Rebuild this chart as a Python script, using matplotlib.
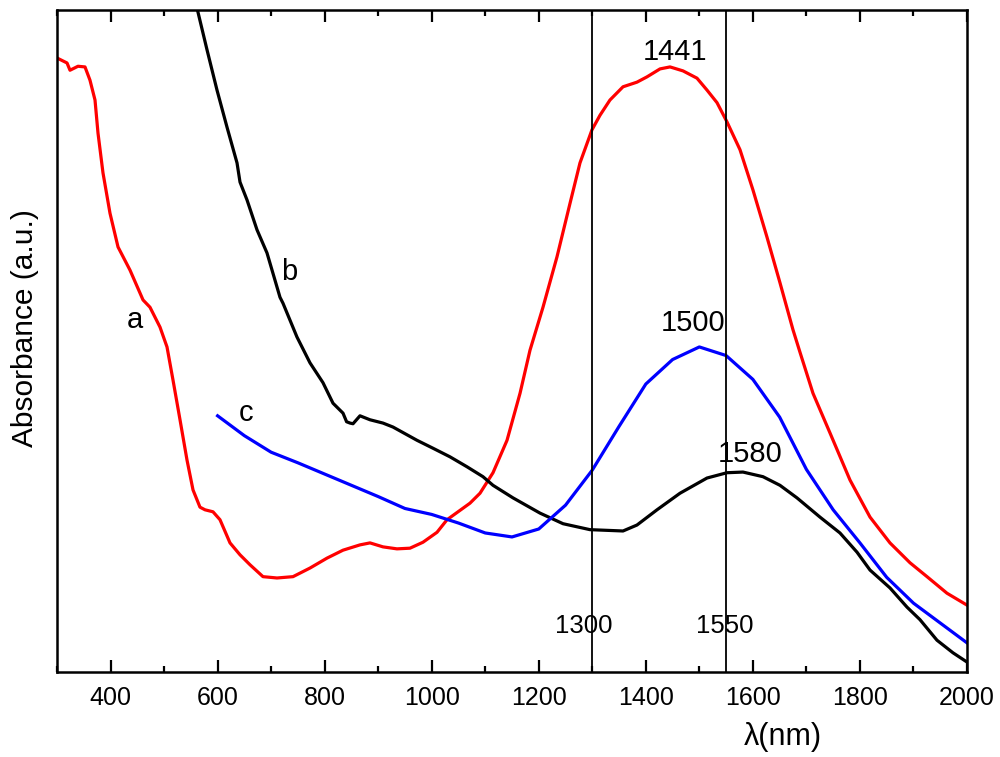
import matplotlib
matplotlib.use("Agg")
import matplotlib.pyplot as plt
from matplotlib.ticker import MultipleLocator, NullLocator

plt.rcParams['font.family'] = ['Liberation Sans', 'DejaVu Sans']

# ---- data (absorbance in arbitrary units, 0-100 scale) ----
wl_a = [300, 318.7, 324.3, 339.2, 352.3, 361.6, 371, 376.6, 385.9, 399, 414, 436.4,
        460.7, 473.7, 492.4, 505.5, 516.7, 529.8, 542.9, 554.1, 567.1, 576.5, 591.4,
        604.5, 623.2, 641.9, 660.5, 684.8, 711, 740.9, 772.6, 804.4, 834.3, 866,
        884.7, 909, 935.1, 959.4, 983.7, 1009.9, 1028.6, 1071.5, 1090.2, 1114.5,
        1140.7, 1165, 1183.6, 1207.9, 1234, 1258.4, 1277, 1299.4, 1314.4, 1333,
        1357.4, 1383.5, 1402.2, 1426.5, 1445.2, 1469.5, 1495.6, 1514.3, 1533,
        1551.6, 1575.9, 1600.2, 1626.3, 1650.6, 1674.9, 1688, 1712.3, 1744.1,
        1781.4, 1818.8, 1856.1, 1893.5, 1925.3, 1962.6, 2000]
abs_a = [92.75, 92.0, 90.9, 91.5, 91.4, 89.4, 86.4, 81.4, 75.4, 69.3, 64.2, 60.7,
         56.2, 55.1, 52.1, 49.1, 44.1, 38.1, 32.0, 27.5, 24.9, 24.5, 24.2,
         23.0, 19.5, 17.7, 16.2, 14.4, 14.2, 14.4, 15.7, 17.2, 18.4, 19.2,
         19.5, 18.9, 18.6, 18.7, 19.6, 21.1, 23.0, 25.5, 27.0, 30.1,
         35.0, 42.1, 48.6, 55.1, 62.7, 70.8, 76.9, 81.9, 84.1, 86.4,
         88.4, 89.1, 89.9, 91.1, 91.4, 90.8, 89.7, 87.9, 86.0,
         83.1, 78.9, 72.8, 65.7, 58.8, 51.7, 48.3, 42.1, 36.1,
         29.0, 23.4, 19.5, 16.5, 14.4, 11.9, 10.1]

wl_b = [554, 561.5, 580.2, 598.9, 617.6, 636.3, 641.9, 655, 673.6, 692.3, 716.6, 722.2,
        748.3, 772.6, 796.9, 815.6, 834.3, 841, 847.4, 853, 866, 884.7, 909, 927.7,
        972.5, 1002.4, 1034.2, 1065.9, 1095.8, 1114.5, 1151.9, 1202.3, 1245.3, 1295.7,
        1357.4, 1383.5, 1420.9, 1463.8, 1514.3, 1551.6, 1581.5, 1618.9, 1650.6, 1682.4,
        1725.3, 1762.7, 1794.5, 1818.8, 1856.1, 1887.9, 1912.2, 1943.9, 1973.8, 2000]
abs_b = [103.0, 100.3, 94.0, 87.9, 82.3, 76.9, 74.0, 71.3, 66.8, 63.3, 56.6, 55.7,
         50.6, 46.7, 43.7, 40.6, 39.1, 37.8, 37.6, 37.5, 38.7, 38.1, 37.6, 37.0,
         35.0, 33.8, 32.5, 31.0, 29.5, 28.2, 26.3, 24.0, 22.4, 21.5,
         21.3, 22.2, 24.5, 27.0, 29.3, 30.1, 30.2, 29.5, 28.2, 26.3,
         23.4, 21.0, 18.1, 15.4, 12.7, 9.8, 7.9, 4.8, 2.9, 1.5]

wl_c = [600, 650, 700, 750, 800, 850, 900, 950, 1000, 1050, 1100, 1150, 1200, 1250,
        1300, 1350, 1400, 1450, 1500, 1550, 1600, 1650, 1700, 1750, 1800, 1850, 1900,
        1950, 2000]
abs_c = [38.7, 35.7, 33.2, 31.6, 29.9, 28.2, 26.5, 24.7, 23.8, 22.5, 21.0, 20.4, 21.6,
         25.2, 30.5, 37.1, 43.5, 47.2, 49.1, 47.8, 44.2, 38.5, 30.6, 24.5, 19.5, 14.3,
         10.4, 7.4, 4.4]

ref_lines = [1300, 1550]
xticks = [400, 600, 800, 1000, 1200, 1400, 1600, 1800, 2000]

# ---- figure ----
fig = plt.figure(figsize=(10, 7.57), dpi=100)
ax = fig.add_axes([0.057, 0.1123, 0.910, 0.8745])

ax.plot(wl_a, abs_a, color='#ff0000', lw=2.3, solid_joinstyle='round')
ax.plot(wl_b, abs_b, color='black', lw=2.3, solid_joinstyle='round')
ax.plot(wl_c, abs_c, color='#0000ff', lw=2.3, solid_joinstyle='round')

for xv in ref_lines:
    ax.axvline(xv, color='black', lw=1.3)

ax.set_xlim(300, 2000)
ax.set_ylim(0, 100)

ax.set_xticks(xticks)
ax.xaxis.set_minor_locator(MultipleLocator(100))
ax.yaxis.set_major_locator(NullLocator())
ax.tick_params(axis='x', which='major', direction='in', length=8.5, width=1.6,
               top=True, labelsize=18, pad=10)
ax.tick_params(axis='x', which='minor', direction='in', length=4.5, width=1.6, top=True)
for s in ax.spines.values():
    s.set_linewidth(1.8)

# annotations
ax.text(1454, 93.7, '1441', fontsize=21, ha='center', va='center')
ax.text(1488, 52.7, '1500', fontsize=21, ha='center', va='center')
ax.text(1594, 32.9, '1580', fontsize=21, ha='center', va='center')
ax.text(1284, 6.9, '1300', fontsize=18.5, ha='center', va='center')
ax.text(1547, 6.9, '1550', fontsize=18.5, ha='center', va='center')
ax.text(446, 53.2, 'a', fontsize=21, ha='center', va='center')
ax.text(733, 60.4, 'b', fontsize=21, ha='center', va='center')
ax.text(654, 39.1, 'c', fontsize=21, ha='center', va='center')

fig.text(0.7825, 1 - 737 / 757, 'λ(nm)', fontsize=22, ha='center', va='center')
fig.text(0.025, 1 - 328 / 757, 'Absorbance (a.u.)', fontsize=21.5, ha='center',
         va='center', rotation=90)

fig.savefig('out.png', dpi=100)
